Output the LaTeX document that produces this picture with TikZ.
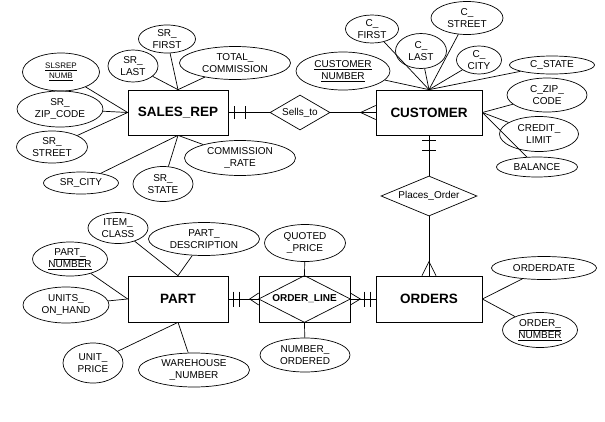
\documentclass[tikz,border=0pt]{standalone}
\usepackage{fontspec}
\setmainfont{Liberation Sans}
\usetikzlibrary{shapes.geometric,calc}

\begin{document}
\begin{tikzpicture}[x=1pt,y=-1pt,line width=0.7pt,
    entity/.style={draw,rectangle,minimum height=45pt,font=\bfseries\fontsize{13.5}{16}\selectfont},
    attr/.style={draw,ellipse,inner sep=0pt,align=center,font=\fontsize{10}{12}\selectfont},
    rel/.style={draw,diamond,inner sep=0pt,font=\fontsize{10}{12}\selectfont}]
  \useasboundingbox (0,0) rectangle (605,421);
  \fill[white] (0,0) rectangle (605,421);
  % entities and relationships
  \node[entity,minimum width=100pt] (sr) at (178,112.5) {SALES\_REP};
  \node[entity,minimum width=106pt] (cust) at (429,112.5) {CUSTOMER};
  \node[entity,minimum width=100pt,minimum height=46pt] (part) at (178,299) {PART};
  \node[entity,minimum width=106pt,minimum height=46pt] (ord) at (429,299) {ORDERS};
  \node[draw,minimum width=91pt,minimum height=46pt,font=\bfseries\fontsize{10}{12}\selectfont] (ol) at (304.5,299) {ORDER\_LINE};
  \draw (ol.north) -- (ol.east) -- (ol.south) -- (ol.west) -- cycle;
  \node[rel,aspect=1.7,minimum width=60pt,minimum height=35pt] (sells) at (300,112.5) {Sells\_to};
  \node[rel,aspect=2.4,minimum width=96pt,minimum height=40pt] (places) at (429,196) {Places\_Order};

  % links with cardinality marks
  \draw (sr.east) -- (sells.west) (sells.east) -- (cust.west);
  \draw ($(sr.east)+(6,-6.5)$) -- ++(0,13) ($(sr.east)+(17,-6.5)$) -- ++(0,13);
  \draw ($(cust.west)+(0,-7)$) -- ($(cust.west)+(-15,0)$) -- ($(cust.west)+(0,7)$);
  \draw (cust.south) -- (places.north) (places.south) -- (ord.north);
  \draw ($(cust.south)+(-7,5)$) -- ++(14,0) ($(cust.south)+(-7,15)$) -- ++(14,0);
  \draw ($(ord.north)+(-7,0)$) -- ($(ord.north)+(0,-14)$) -- ($(ord.north)+(7,0)$);
  \draw (part.east) -- (ol.west) (ol.east) -- (ord.west);
  \draw ($(part.east)+(5,-7.5)$) -- ++(0,15) ($(part.east)+(11,-7.5)$) -- ++(0,15);
  \draw ($(ol.west)+(0,-6)$) -- ($(ol.west)+(-9,0)$) -- ($(ol.west)+(0,6)$);
  \draw ($(ol.east)+(0,-6)$) -- ($(ol.east)+(10,0)$) -- ($(ol.east)+(0,6)$);
  \draw ($(ord.west)+(-11,-7.5)$) -- ++(0,15) ($(ord.west)+(-5,-7.5)$) -- ++(0,15);

  % SALES_REP attributes
  \node[attr,minimum width=77pt,minimum height=38pt,font=\fontsize{8}{10}\selectfont] (slsrep) at (61,72) {\underline{SLSREP}\\\underline{NUMB}};
  \node[attr,minimum width=57pt,minimum height=28pt] (srfirst) at (167,39) {SR\_\\FIRST};
  \node[attr,minimum width=50pt,minimum height=32pt] (srlast) at (133,66) {SR\_\\LAST};
  \node[attr,minimum width=111pt,minimum height=33pt] (totcom) at (235,63) {TOTAL\_\\COMMISSION};
  \node[attr,minimum width=86pt,minimum height=36pt] (srzip) at (60,109) {SR\_\\ZIP\_CODE};
  \node[attr,minimum width=71pt,minimum height=32pt] (srstreet) at (52,147) {SR\_\\STREET};
  \node[attr,minimum width=75pt,minimum height=22pt] (srcity) at (81,183) {SR\_CITY};
  \node[attr,minimum width=60pt,minimum height=35pt] (srstate) at (163,184) {SR\_\\STATE};
  \node[attr,minimum width=111pt,minimum height=35pt] (comrate) at (240,158) {COMMISSION\\\_RATE};
  \foreach \a in {srfirst,srlast,totcom} \draw (\a) -- (sr.north);
  \foreach \a in {slsrep,srzip,srstreet} \draw (\a) -- (sr.west);
  \foreach \a in {srcity,srstate,comrate} \draw (\a) -- (sr.south);

  % CUSTOMER attributes
  \node[attr,minimum width=53pt,minimum height=28pt] (cfirst) at (372,29) {C\_\\FIRST};
  \node[attr,minimum width=72pt,minimum height=33pt] (cstreet) at (467,18) {C\_\\STREET};
  \node[attr,minimum width=51pt,minimum height=35pt] (clast) at (421,51) {C\_\\LAST};
  \node[attr,minimum width=45pt,minimum height=28pt] (ccity) at (479,60) {C\_\\CITY};
  \node[attr,minimum width=94pt,minimum height=38pt] (custnum) at (343,71) {\underline{CUSTOMER}\\\underline{NUMBER}};
  \node[attr,minimum width=85pt,minimum height=18pt] (cstate) at (552,65) {C\_STATE};
  \node[attr,minimum width=80pt,minimum height=34pt] (czip) at (547,95) {C\_ZIP\_\\CODE};
  \node[attr,minimum width=79pt,minimum height=35pt] (credit) at (539,134) {CREDIT\_\\LIMIT};
  \node[attr,minimum width=81pt,minimum height=20pt] (balance) at (537,167) {BALANCE};
  \foreach \a in {cfirst,cstreet,clast,ccity,custnum,cstate} \draw (\a) -- (cust.north);
  \foreach \a in {czip,credit,balance} \draw (\a) -- (cust.east);

  % PART attributes
  \node[attr,minimum width=60pt,minimum height=31pt] (itemcl) at (118,228) {ITEM\_\\CLASS};
  \node[attr,minimum width=111pt,minimum height=33pt] (partdesc) at (204,239) {PART\_\\DESCRIPTION};
  \node[attr,minimum width=75pt,minimum height=34pt] (partnum) at (70,259) {\underline{PART\_}\\\underline{NUMBER}};
  \node[attr,minimum width=86pt,minimum height=36pt] (units) at (66,305) {UNITS\_\\ON\_HAND};
  \node[attr,minimum width=60pt,minimum height=40pt] (uprice) at (93,363) {UNIT\_\\PRICE};
  \node[attr,minimum width=111pt,minimum height=34pt] (wareh) at (194,370) {WAREHOUSE\\\_NUMBER};
  \foreach \a in {itemcl,partdesc} \draw (\a) -- (part.north);
  \foreach \a in {partnum,units} \draw (\a) -- (part.west);
  \foreach \a in {uprice,wareh} \draw (\a) -- (part.south);

  % ORDER_LINE and ORDERS attributes
  \node[attr,minimum width=81pt,minimum height=37pt] (quoted) at (305,243) {QUOTED\\\_PRICE};
  \node[attr,minimum width=90pt,minimum height=34pt] (numord) at (305,355) {NUMBER\_\\ORDERED};
  \node[attr,minimum width=105pt,minimum height=23pt] (odate) at (544,268) {ORDERDATE};
  \node[attr,minimum width=75pt,minimum height=35pt] (onum) at (540,330) {\underline{ORDER\_}\\\underline{NUMBER}};
  \draw (quoted) -- (ol.north) (numord) -- (ol.south);
  \draw (odate) -- (ord.east) (onum) -- (ord.east);
\end{tikzpicture}
\end{document}
